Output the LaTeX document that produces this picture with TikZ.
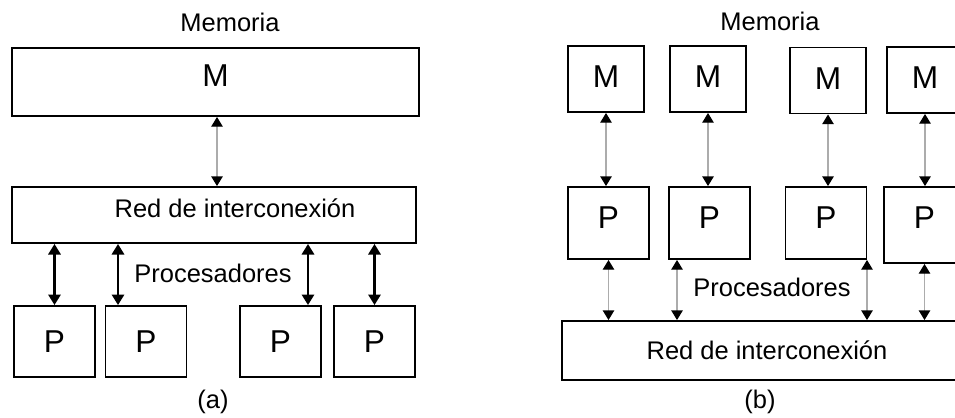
\documentclass[tikz,border=0pt]{standalone}
\usepackage{fontspec}
\setmainfont{Liberation Sans}
\usetikzlibrary{arrows.meta}

\tikzset{
  caja/.style={draw, line width=1.1pt, inner sep=0pt, font=\fontsize{18}{20}\selectfont},
  rotulo/.style={font=\fontsize{14.5}{17}\selectfont},
  punta/.style={Triangle[length=5.5pt,width=6.5pt,color=black]},
  enlace/.style={{Triangle[length=5.5pt,width=6.5pt,color=black]}-{Triangle[length=5.5pt,width=6.5pt,color=black]}, gray!65, line width=0.7pt},
  enlacegrueso/.style={{Triangle[length=6pt,width=7pt]}-{Triangle[length=6pt,width=7pt]}, black, line width=1.3pt}
}

\begin{document}
\begin{tikzpicture}[x=0.02cm, y=-0.02cm]
        \useasboundingbox (0,0) rectangle (955,417);
        \clip (0,0) rectangle (955,417);

        % (a) Memoria compartida
        \node[rotulo] (memA) at (230,22) {Memoria};
        \node[caja, minimum width=8.14cm, minimum height=1.36cm, text depth=0.24cm] (Ma) at (215.5,82) {M};
        \node[caja, minimum width=8.08cm, minimum height=1.12cm] (Ra) at (214,215) {};
        \node[rotulo] (redA) at (235,208) {Red de interconexi\'on};
        \foreach \n/\x in {1/54.5,2/146,3/280.5,4/374.5}
            \node[caja, minimum width=1.62cm, minimum height=1.42cm] (Pa\n) at (\x,341.5) {P};
        \node[rotulo] (procA) at (213,273) {Procesadores};
        \node[rotulo] (capA) at (213,402) {(a)};

        % Conexiones (a)
        \draw[enlace] (Ma.south -| 217,0) -- (Ra.north -| 217,0);
        \draw[enlacegrueso] (Ra.south -| Pa1.north) -- (Pa1.north);
        \draw[enlacegrueso] ([xshift=-0.56cm]Pa2.north |- Ra.south) -- ([xshift=-0.56cm]Pa2.north);
        \draw[enlacegrueso] ([xshift=0.55cm]Pa3.north |- Ra.south) -- ([xshift=0.55cm]Pa3.north);
        \draw[enlacegrueso] (Ra.south -| Pa4.north) -- (Pa4.north);

        % (b) Memoria distribuida
        \node[rotulo] (memB) at (770,21) {Memoria};
        \foreach \n/\x/\y in {1/606/79,2/708/79,3/828/80.5,4/925/80}
            \node[caja, minimum width=1.52cm, minimum height=1.32cm, text depth=0.08cm] (Mb\n) at (\x,\y) {M};
        \foreach \n/\x in {1/608.5,2/709.5,3/826}
            \node[caja, minimum width=1.62cm, minimum height=1.44cm, text depth=0.2cm] (Pb\n) at (\x,223) {P};
        \node[caja, minimum width=1.62cm, minimum height=1.52cm, text depth=0.28cm] (Pb4) at (924.5,225) {P};
        \node[caja, minimum width=8.2cm, minimum height=1.18cm, rotulo] (Rb) at (767,350.5) {Red de interconexi\'on};
        \node[rotulo] (procB) at (772,287) {Procesadores};
        \node[rotulo] (capB) at (760,402) {(b)};

        % Conexiones (b)
        \foreach \n in {1,...,4}
            \draw[enlace] (Mb\n.south) -- (Mb\n.south |- Pb\n.north);
        \draw[enlace] (Pb1.south) -- (Pb1.south |- Rb.north);
        \draw[enlace] ([xshift=-0.65cm]Pb2.south) -- ([xshift=-0.65cm]Pb2.south |- Rb.north);
        \draw[enlace] ([xshift=0.82cm]Pb3.south) -- ([xshift=0.82cm]Pb3.south |- Rb.north);
        \draw[enlace] (Pb4.south) -- (Pb4.south |- Rb.north);
\end{tikzpicture}
\end{document}
